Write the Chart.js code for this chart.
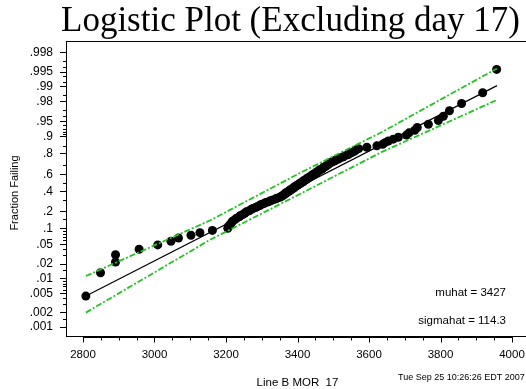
<!DOCTYPE html>
<html>
<head>
<meta charset="utf-8">
<title>Logistic Plot</title>
<script src="https://cdn.jsdelivr.net/npm/chart.js@4.4.1/dist/chart.umd.min.js"></script>
<style>
  html, body { margin: 0; padding: 0; background: #fff; overflow: hidden; }
  #wrap { width: 560px; height: 389px; }
</style>
</head>
<body>
<div id="wrap"><canvas id="plot" width="560" height="389"></canvas></div>
<script>
// Logistic probability plot of MOR, line B, day 17 left out.
// Fractions failing go on a linear axis in logit units, so the fitted
// logistic comes out as a straight line.

const muhat = 3427;
const sigmahat = 114.3;

// sorted MOR values and their plotting positions
const morValues = [
  2808, 2849, 2891, 2891, 2957, 3009, 3046, 3067, 3102, 3127,
  3162, 3205, 3207, 3212, 3215, 3218, 3225, 3229, 3237, 3241,
  3248, 3253, 3257, 3265, 3270, 3275, 3283, 3288, 3295, 3298,
  3306, 3311, 3319, 3324, 3331, 3338, 3342, 3350, 3354, 3358,
  3362, 3363, 3368, 3369, 3374, 3376, 3380, 3381, 3386, 3389,
  3390, 3395, 3396, 3401, 3403, 3408, 3409, 3414, 3417, 3418,
  3423, 3426, 3427, 3433, 3434, 3439, 3442, 3443, 3449, 3450,
  3455, 3456, 3461, 3462, 3468, 3471, 3473, 3479, 3481, 3486,
  3487, 3492, 3496, 3503, 3507, 3514, 3518, 3527, 3532, 3541,
  3546, 3552, 3559, 3563, 3571, 3594, 3622, 3638, 3645, 3654,
  3668, 3682, 3705, 3712, 3728, 3735, 3766, 3794, 3808, 3825,
  3859, 3918, 3957,
];
const fractionFailing = [
  .0044, .0133, .0221, .0310, .0398, .0487, .0575, .0664, .0752, .0841,
  .0929, .1018, .1106, .1195, .1283, .1372, .1460, .1549, .1637, .1726,
  .1814, .1903, .1991, .2080, .2168, .2257, .2345, .2434, .2522, .2611,
  .2699, .2788, .2876, .2965, .3053, .3142, .3230, .3319, .3407, .3496,
  .3584, .3673, .3761, .3850, .3938, .4027, .4115, .4204, .4292, .4381,
  .4469, .4558, .4646, .4735, .4823, .4912, .5000, .5088, .5177, .5265,
  .5354, .5442, .5531, .5619, .5708, .5796, .5885, .5973, .6062, .6150,
  .6239, .6327, .6416, .6504, .6593, .6681, .6770, .6858, .6947, .7035,
  .7124, .7212, .7301, .7389, .7478, .7566, .7655, .7743, .7832, .7920,
  .8009, .8097, .8186, .8274, .8363, .8451, .8540, .8628, .8717, .8805,
  .8894, .8982, .9071, .9159, .9248, .9336, .9425, .9513, .9602, .9690,
  .9779, .9867, .9956,
];

// confidence bands
const bandMor   = [2808, 3155, 3407, 3635, 3958];
const bandUpper = [0.0114, 0.141, 0.615, 0.918, 0.9958];
const bandLower = [0.0020, 0.061, 0.369, 0.812, 0.9813];

// fitted line runs over the data range
const fitMor = [2808, 3958];

const yTicks = [.001, .002, .005, .01, .02, .05, .1, .2, .4, .6, .8, .9, .95, .98, .99, .995, .998];
const yTickLabels = [".001", ".002", ".005", ".01", ".02", ".05", ".1", ".2", ".4", ".6", ".8", ".9", ".95", ".98", ".99", ".995", ".998"];
const yMinorTicks = [.0015, .003, .004, .006, .007, .008, .009, .015, .03, .04, .06, .07, .08, .09,
  .15, .3, .5, .7, .85, .91, .92, .93, .94, .96, .97, .985, .992, .994, .996, .997];
const xTicks = [2800, 3000, 3200, 3400, 3600, 3800, 4000];
const xMinorStep = 50;

const logit = (p) => Math.log(p / (1 - p));

const SANS = "'Liberation Sans', Arial, Helvetica, sans-serif";
const SERIF = "'Liberation Serif', 'Times New Roman', serif";
const GREEN = "#22c322";

const framePlugin = {
  id: "frame",
  afterDraw(chart) {
    const { ctx, chartArea: a, scales } = chart;
    const xs = scales.x, ys = scales.y;
    ctx.save();
    ctx.strokeStyle = "#000";
    ctx.lineWidth = 1;
    ctx.strokeRect(a.left + 0.5, a.top + 0.5, a.width, a.height);

    // minor ticks on the probability axis
    ctx.beginPath();
    for (const p of yMinorTicks) {
      const py = Math.round(ys.getPixelForValue(logit(p))) + 0.5;
      ctx.moveTo(a.left - 3, py);
      ctx.lineTo(a.left, py);
    }
    // x axis: line under the frame with ticks hanging down
    const yb = a.bottom + 1.5;
    const x0 = xTicks[0], x1 = xTicks[xTicks.length - 1];
    ctx.moveTo(Math.round(xs.getPixelForValue(x0)), yb);
    ctx.lineTo(Math.round(xs.getPixelForValue(x1)) + 1, yb);
    for (let v = x0; v <= x1; v += xMinorStep) {
      const px = Math.round(xs.getPixelForValue(v)) + 0.5;
      ctx.moveTo(px, yb);
      ctx.lineTo(px, yb + (xTicks.includes(v) ? 5 : 3));
    }
    ctx.stroke();

    ctx.fillStyle = "#000";
    ctx.font = "35px " + SERIF;
    ctx.textAlign = "left";
    ctx.textBaseline = "alphabetic";
    ctx.fillText("Logistic Plot (Excluding day 17)", 61, 31);

    ctx.font = "11.5px " + SANS;
    ctx.textAlign = "center";
    const midX = (xs.getPixelForValue(x0) + xs.getPixelForValue(x1)) / 2;
    ctx.fillText("Line B MOR  17", midX, 386);

    ctx.textAlign = "right";
    ctx.fillText("muhat = " + muhat, 506, 296);
    ctx.fillText("sigmahat = " + sigmahat, 506, 324);

    ctx.font = "9px " + SANS;
    ctx.textAlign = "left";
    ctx.fillText("Tue Sep 25 10:26:26 EDT 2007", 398, 380);

    ctx.translate(15, 193);
    ctx.rotate(-Math.PI / 2);
    ctx.font = "11px " + SANS;
    ctx.textAlign = "center";
    ctx.textBaseline = "middle";
    ctx.fillText("Fraction Failing", 0, 0);
    ctx.restore();
  },
};

new Chart(document.getElementById("plot"), {
  type: "scatter",
  data: {
    datasets: [
      {
        label: "upper band",
        data: bandMor.map((m, i) => ({ x: m, y: logit(bandUpper[i]) })),
        showLine: true,
        pointRadius: 0,
        borderColor: GREEN,
        borderWidth: 1.8,
        borderDash: [6, 2, 2, 2],
        order: 0,
      },
      {
        label: "lower band",
        data: bandMor.map((m, i) => ({ x: m, y: logit(bandLower[i]) })),
        showLine: true,
        pointRadius: 0,
        borderColor: GREEN,
        borderWidth: 1.8,
        borderDash: [6, 2, 2, 2],
        order: 0,
      },
      {
        label: "MOR",
        data: morValues.map((m, i) => ({ x: m, y: logit(fractionFailing[i]) })),
        pointRadius: 4.5,
        backgroundColor: "#000",
        borderColor: "#000",
        borderWidth: 0,
        order: 1,
      },
      {
        label: "fit",
        data: fitMor.map((m) => ({ x: m, y: (m - muhat) / sigmahat })),
        showLine: true,
        pointRadius: 0,
        borderColor: "#000",
        borderWidth: 1.2,
        order: 2,
      },
    ],
  },
  options: {
    responsive: false,
    animation: false,
    devicePixelRatio: 1,
    events: [],
    layout: { padding: { top: 41, right: 15, bottom: 0, left: 0 } },
    plugins: {
      legend: { display: false },
      tooltip: { enabled: false },
      title: { display: false },
    },
    scales: {
      x: {
        type: "linear",
        min: 2752.45,
        max: 4092.3,
        bounds: "data",
        afterBuildTicks: (s) => { s.ticks = xTicks.map((v) => ({ value: v })); },
        afterFit: (s) => { s.height = 53; },
        grid: { display: false, drawTicks: false },
        border: { display: false },
        ticks: {
          padding: 12,
          color: "#000",
          font: { family: SANS, size: 11.5 },
          autoSkip: false,
          maxRotation: 0,
          callback: (v) => String(v),
        },
      },
      y: {
        type: "linear",
        min: -7.33,
        max: 6.78,
        bounds: "data",
        afterBuildTicks: (s) => { s.ticks = yTicks.map((p) => ({ value: logit(p) })); },
        afterFit: (s) => { s.width = 66; },
        grid: { drawOnChartArea: false, drawTicks: true, tickLength: 6, color: "#000" },
        border: { display: false },
        ticks: {
          padding: 7,
          color: "#000",
          font: { family: SANS, size: 12 },
          autoSkip: false,
          callback: (v, i) => yTickLabels[i],
        },
      },
    },
  },
  plugins: [framePlugin],
});
</script>
</body>
</html>
